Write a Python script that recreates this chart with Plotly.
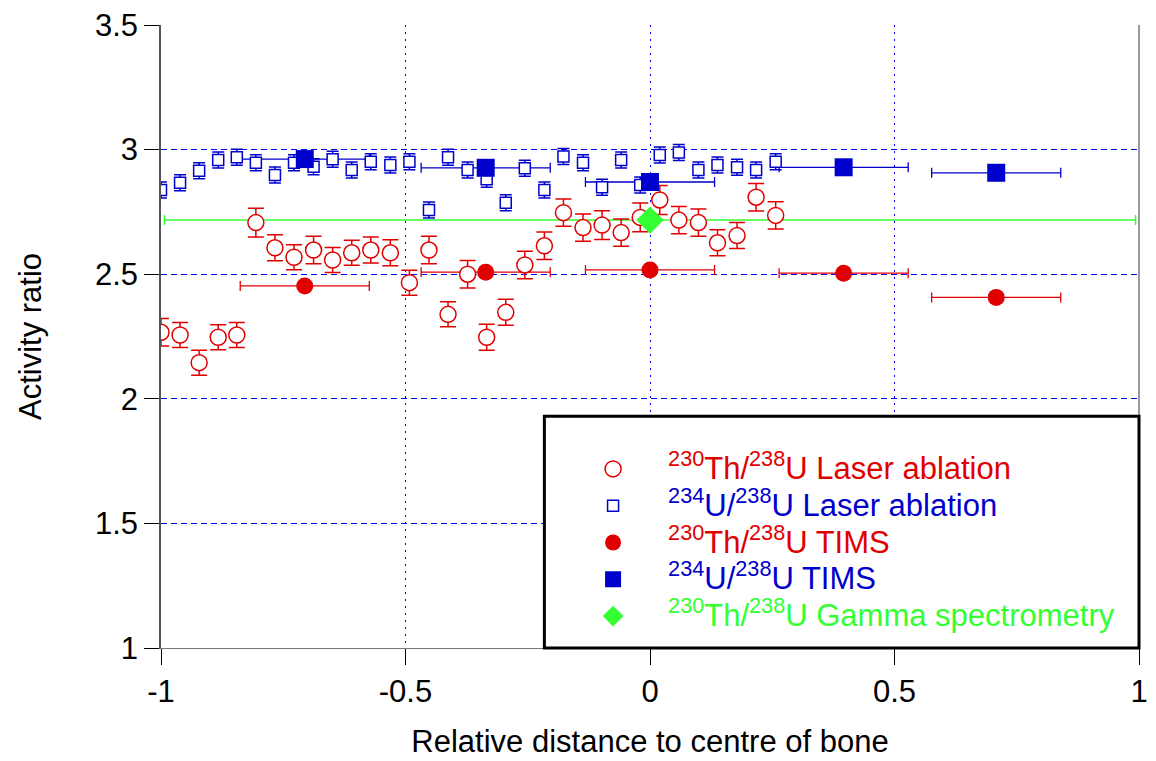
import plotly.graph_objects as go

# ---- data ----
la_x = [-1.000, -0.961, -0.922, -0.883, -0.845, -0.806, -0.767, -0.728, -0.688, -0.649, -0.610,
        -0.571, -0.531, -0.492, -0.452, -0.413, -0.373, -0.334, -0.295, -0.256, -0.216, -0.177,
        -0.137, -0.098, -0.059, -0.020, 0.020, 0.059, 0.099, 0.138, 0.178, 0.217, 0.257]
th_la = [2.267, 2.256, 2.145, 2.247, 2.256, 2.707, 2.606, 2.568, 2.597, 2.557, 2.586,
         2.597, 2.586, 2.466, 2.597, 2.339, 2.500, 2.247, 2.347, 2.537, 2.614, 2.747,
         2.687, 2.697, 2.667, 2.728, 2.798, 2.717, 2.707, 2.626, 2.655, 2.809, 2.736]
th_la_err = [0.055, 0.050, 0.050, 0.050, 0.050, 0.058, 0.052, 0.050, 0.055, 0.050, 0.050,
             0.052, 0.052, 0.050, 0.055, 0.050, 0.055, 0.052, 0.052, 0.055, 0.055, 0.055,
             0.055, 0.058, 0.055, 0.058, 0.058, 0.055, 0.055, 0.052, 0.052, 0.055, 0.055]
u_la = [2.838, 2.867, 2.915, 2.958, 2.969, 2.947, 2.898, 2.947, 2.931, 2.961, 2.918,
        2.951, 2.938, 2.951, 2.758, 2.969, 2.918, 2.881, 2.787, 2.925, 2.838, 2.972,
        2.947, 2.849, 2.958, 2.858, 2.978, 2.988, 2.918, 2.938, 2.929, 2.918, 2.951]
u_la_err = [0.032] * 33

tims_x = [-0.706, -0.336, 0.000, 0.396, 0.708]
tims_x_err = [0.132, 0.132, 0.132, 0.132, 0.132]
th_tims = [2.453, 2.508, 2.517, 2.504, 2.407]
u_tims = [2.962, 2.927, 2.870, 2.929, 2.907]

gamma_x = [0.0]
gamma_x_err = [0.993]
gamma_y = [2.717]
gamma_y_err = [0.02]

x_ticks = [-1, -0.5, 0, 0.5, 1]
x_tick_text = ["-1", "-0.5", "0", "0.5", "1"]
y_ticks = [1, 1.5, 2, 2.5, 3, 3.5]
y_tick_text = ["1", "1.5", "2", "2.5", "3", "3.5"]

RED = "#e00000"
BLUE = "#0000cc"
GREEN = "#33ff33"
GRID = "#0000ff"
FONT = "Liberation Sans, Arial, sans-serif"
FS = 31


def lab(color, text):
    return f"<span style='color:{color};font-size:{FS}px'>{text}</span>"


names = [
    lab(RED, "<sup>230</sup>Th/<sup>238</sup>U Laser ablation"),
    lab(BLUE, "<sup>234</sup>U/<sup>238</sup>U Laser ablation"),
    lab(RED, "<sup>230</sup>Th/<sup>238</sup>U TIMS"),
    lab(BLUE, "<sup>234</sup>U/<sup>238</sup>U TIMS"),
    lab(GREEN, "<sup>230</sup>Th/<sup>238</sup>U Gamma spectrometry"),
]

fig = go.Figure()

# error-bar-only layers (drawn underneath)
fig.add_trace(go.Scatter(
    x=gamma_x, y=gamma_y, mode="markers", showlegend=False, hoverinfo="skip",
    marker=dict(size=1, opacity=0),
    error_x=dict(type="data", array=gamma_x_err, color=GREEN, thickness=1.5, width=5),
    error_y=dict(type="data", array=gamma_y_err, color="#99ff99", thickness=1.5, width=8),
))
fig.add_trace(go.Scatter(
    x=tims_x, y=u_tims, mode="markers", showlegend=False, hoverinfo="skip",
    marker=dict(size=1, opacity=0),
    error_x=dict(type="data", array=tims_x_err, color=BLUE, thickness=1.3, width=5),
))
fig.add_trace(go.Scatter(
    x=tims_x, y=th_tims, mode="markers", showlegend=False, hoverinfo="skip",
    marker=dict(size=1, opacity=0),
    error_x=dict(type="data", array=tims_x_err, color=RED, thickness=1.3, width=5),
))

# laser ablation
fig.add_trace(go.Scatter(
    x=la_x, y=th_la, mode="markers", name=names[0], legendrank=1, legendgroup="a",
    marker=dict(symbol="circle", size=16, color="white", line=dict(color=RED, width=1.5)),
    error_y=dict(type="data", array=th_la_err, color=RED, thickness=1.5, width=8),
))
fig.add_trace(go.Scatter(
    x=la_x, y=u_la, mode="markers", name=names[1], legendrank=2, legendgroup="b",
    marker=dict(symbol="square", size=11, color="white", line=dict(color=BLUE, width=1.5)),
    error_y=dict(type="data", array=u_la_err, color=BLUE, thickness=1.5, width=6),
))

# TIMS markers
fig.add_trace(go.Scatter(
    x=tims_x, y=th_tims, mode="markers", name=names[2], legendrank=3, legendgroup="c",
    marker=dict(symbol="circle", size=17, color=RED, line=dict(width=0)),
))
fig.add_trace(go.Scatter(
    x=tims_x, y=u_tims, mode="markers", name=names[3], legendrank=4, legendgroup="d",
    marker=dict(symbol="square", size=18, color=BLUE, line=dict(width=0)),
))
fig.add_trace(go.Scatter(
    x=gamma_x, y=gamma_y, mode="markers", name=names[4], legendrank=5, legendgroup="e",
    marker=dict(symbol="diamond", size=21, color=GREEN, line=dict(width=0)),
))

fig.update_layout(
    width=1156, height=761,
    margin=dict(l=153, r=25, t=17, b=121, autoexpand=False),
    paper_bgcolor="white", plot_bgcolor="white",
    font=dict(family=FONT, size=FS, color="black"),
    showlegend=True,
    legend=dict(
        x=0.406, y=0.012, xanchor="left", yanchor="bottom",
        bgcolor="rgba(0,0,0,0)", borderwidth=0,
        font=dict(family=FONT, size=26),
        traceorder="grouped", tracegroupgap=0, itemwidth=100,
    ),
    shapes=[
        dict(type="rect", xref="paper", yref="paper", x0=0.392, x1=1.0, y0=0.0, y1=0.372,
             line=dict(color="black", width=3), fillcolor="white", layer="above"),
        dict(type="line", xref="paper", yref="paper", x0=1.0, x1=1.0, y0=0.0, y1=1.0,
             line=dict(color="#777777", width=1.5), layer="below"),
    ],
)

fig.update_xaxes(
    range=[-1, 1], tickmode="array", tickvals=x_ticks, ticktext=x_tick_text,
    showgrid=True, gridcolor=GRID, griddash="2px,5px", gridwidth=1,
    zeroline=False, automargin=False,
    showline=True, linecolor="#777777", linewidth=1,
    ticks="outside", ticklen=16, tickcolor="black", tickwidth=1,
    tickfont=dict(size=FS), ticklabeloverflow="allow",
    title=dict(text="Relative distance to centre of bone", font=dict(size=FS), standoff=22),
)
fig.update_yaxes(
    range=[1, 3.5], tickmode="array", tickvals=y_ticks, ticktext=y_tick_text,
    showgrid=True, gridcolor=GRID, griddash="6px,4px", gridwidth=1,
    zeroline=False, automargin=False,
    showline=True, linecolor="#555555", linewidth=1.5,
    ticks="outside", ticklen=15, tickcolor="black", tickwidth=1,
    tickfont=dict(size=FS), ticklabeloverflow="allow",
    title=dict(text="Activity ratio", font=dict(size=FS), standoff=44),
)

fig.write_html("out.html")
